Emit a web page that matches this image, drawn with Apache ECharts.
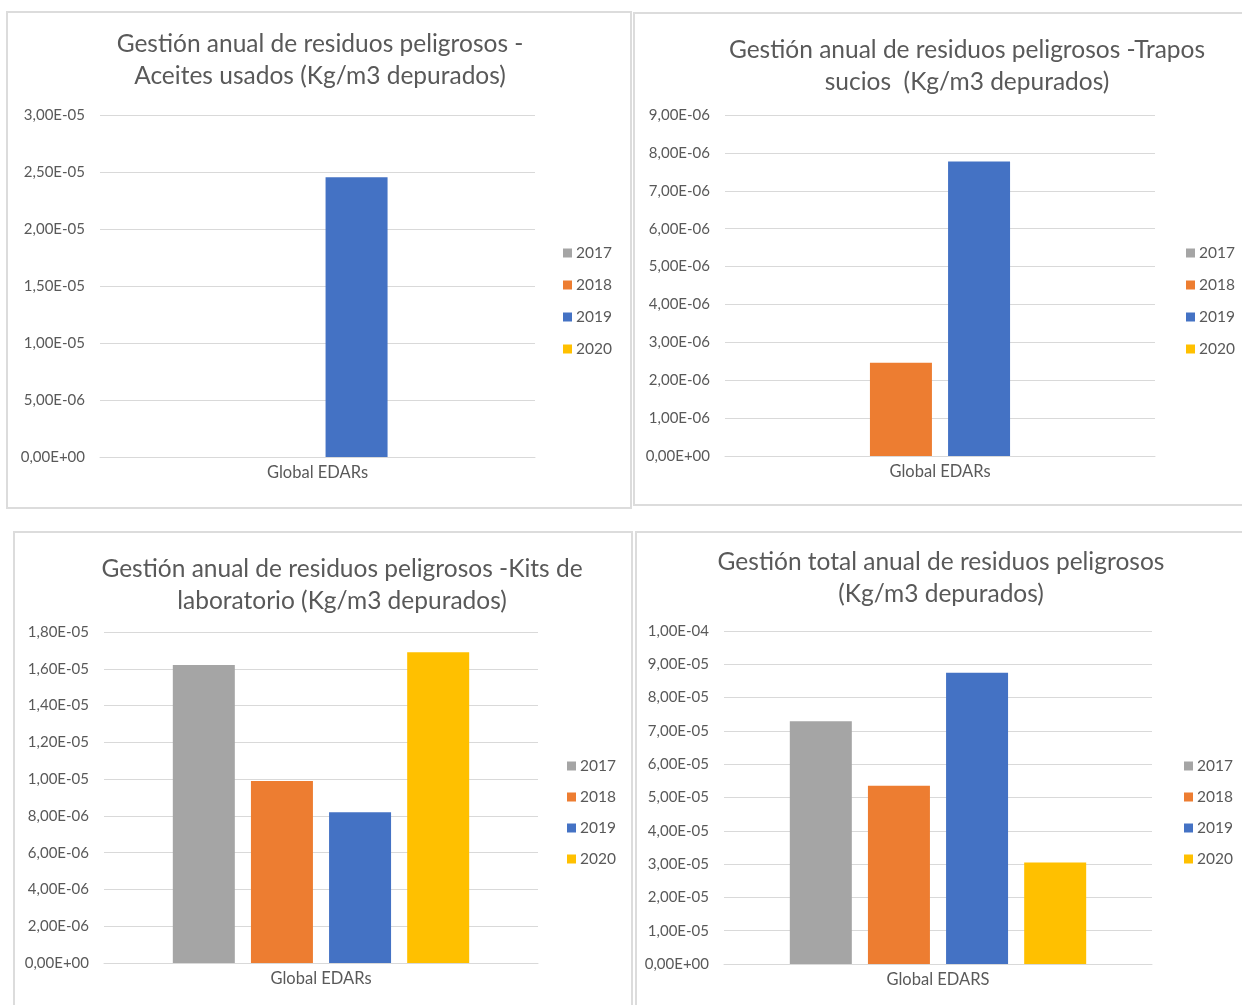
<!DOCTYPE html>
<html>
<head>
<meta charset="utf-8">
<style>
  html, body { margin: 0; padding: 0; background: #ffffff; }
  #chart { width: 1242px; height: 1005px; }
</style>
<script src="https://cdn.jsdelivr.net/npm/echarts@6/dist/echarts.min.js"></script>
</head>
<body>
<div id="chart"></div>
<script>
// Residuos peligrosos por año, kg por m3 depurado (Global EDARs)
const years = ['2017', '2018', '2019', '2020'];
const yearColors = ['#a5a5a5', '#ed7d31', '#4472c4', '#ffc000'];

const aceitesCategory = ['Global EDARs'];
const aceitesValues = [null, null, 2.455e-5, null];

const traposCategory = ['Global EDARs'];
const traposValues = [null, 2.46e-6, 7.77e-6, null];

const kitsCategory = ['Global EDARs'];
const kitsValues = [1.62e-5, 9.9e-6, 8.2e-6, 1.69e-5];

const totalCategory = ['Global EDARS'];
const totalValues = [7.29e-5, 5.35e-5, 8.75e-5, 3.05e-5];

const panelTitles = [
  'Gestión anual de residuos peligrosos -\nAceites usados (Kg/m3 depurados)',
  'Gestión anual de residuos peligrosos -Trapos\nsucios  (Kg/m3 depurados)',
  'Gestión anual de residuos peligrosos -Kits de\nlaboratorio (Kg/m3 depurados)',
  'Gestión total anual de residuos peligrosos\n(Kg/m3 depurados)'
];

// y axis ranges: [max, interval]
const axisRanges = [
  [3e-5, 5e-6],
  [9e-6, 1e-6],
  [1.8e-5, 2e-6],
  [1e-4, 1e-5]
];

// Spreadsheet-style scientific labels: 2,50E-05
function sci(v) {
  if (Math.abs(v) < 1e-20) return '0,00E+00';
  const s = v.toExponential(2);
  const parts = s.split('e');
  const mant = parts[0].replace('.', ',');
  let exp = parseInt(parts[1], 10);
  const sign = exp < 0 ? '-' : '+';
  exp = Math.abs(exp);
  return mant + 'E' + sign + (exp < 10 ? '0' + exp : '' + exp);
}

const FONT = 'Lato';
const TXT = '#595959';
const GRIDC = '#d9d9d9';

const panels = [
  { cats: aceitesCategory, vals: aceitesValues,
    grid: { left: 100, top: 115, width: 435, height: 342 },
    title: { x: 320, y: 28 }, legend: { x: 563, y: 245, gap: 16 },
    box: { x: 7, y: 12, w: 624, h: 496 } },
  { cats: traposCategory, vals: traposValues,
    grid: { left: 725, top: 115, width: 430, height: 341 },
    title: { x: 967, y: 34 }, legend: { x: 1186, y: 245, gap: 16 },
    box: { x: 634, y: 13, w: 620, h: 492 } },
  { cats: kitsCategory, vals: kitsValues,
    grid: { left: 104, top: 632, width: 434, height: 331 },
    title: { x: 342, y: 553 }, legend: { x: 567, y: 758, gap: 15 },
    box: { x: 14, y: 532, w: 618, h: 490 } },
  { cats: totalCategory, vals: totalValues,
    grid: { left: 724, top: 631, width: 428, height: 333 },
    title: { x: 941, y: 546 }, legend: { x: 1184, y: 758, gap: 15 },
    box: { x: 636, y: 532, w: 620, h: 490 } }
];

const option = {
  backgroundColor: '#ffffff',
  animation: false,
  textStyle: { fontFamily: FONT },
  title: [], legend: [], grid: [], xAxis: [], yAxis: [], series: [],
  graphic: []
};

panels.forEach(function (p, i) {
  option.graphic.push({
    type: 'rect', silent: true, z: -10,
    shape: { x: p.box.x, y: p.box.y, width: p.box.w, height: p.box.h },
    style: { fill: '#ffffff', stroke: '#dcdcdc', lineWidth: 2 }
  });
  option.title.push({
    text: panelTitles[i], padding: 0,
    left: p.title.x, top: p.title.y, textAlign: 'center',
    textStyle: { fontFamily: FONT, fontSize: 24.5, fontWeight: 'normal', color: TXT, lineHeight: 32 }
  });
  option.legend.push({
    data: years, orient: 'vertical', left: p.legend.x, top: p.legend.y,
    icon: 'rect', itemWidth: 9, itemHeight: 9, itemGap: p.legend.gap,
    padding: 0, selectedMode: false,
    textStyle: { fontFamily: FONT, fontSize: 15.5, color: TXT, padding: [0, 0, 0, -1] }
  });
  option.grid.push(Object.assign({ containLabel: false }, p.grid));
  option.xAxis.push({
    type: 'category', gridIndex: i, data: p.cats,
    axisLine: { lineStyle: { color: GRIDC, width: 1 } },
    axisTick: { show: false },
    axisLabel: { fontFamily: FONT, fontSize: 16.5, color: TXT, margin: 7 }
  });
  option.yAxis.push({
    type: 'value', gridIndex: i, min: 0,
    max: axisRanges[i][0], interval: axisRanges[i][1],
    axisLine: { show: false }, axisTick: { show: false },
    splitLine: { lineStyle: { color: GRIDC, width: 1 } },
    axisLabel: { fontFamily: FONT, fontSize: 15, color: TXT, margin: 15, formatter: sci }
  });
  years.forEach(function (y, k) {
    option.series.push({
      type: 'bar', name: y, xAxisIndex: i, yAxisIndex: i,
      data: [p.vals[k]], barWidth: 62, barGap: '26%',
      itemStyle: { color: yearColors[k] }
    });
  });
});

const chart = echarts.init(document.getElementById('chart'), null, { renderer: 'canvas' });
chart.setOption(option);
</script>
</body>
</html>
